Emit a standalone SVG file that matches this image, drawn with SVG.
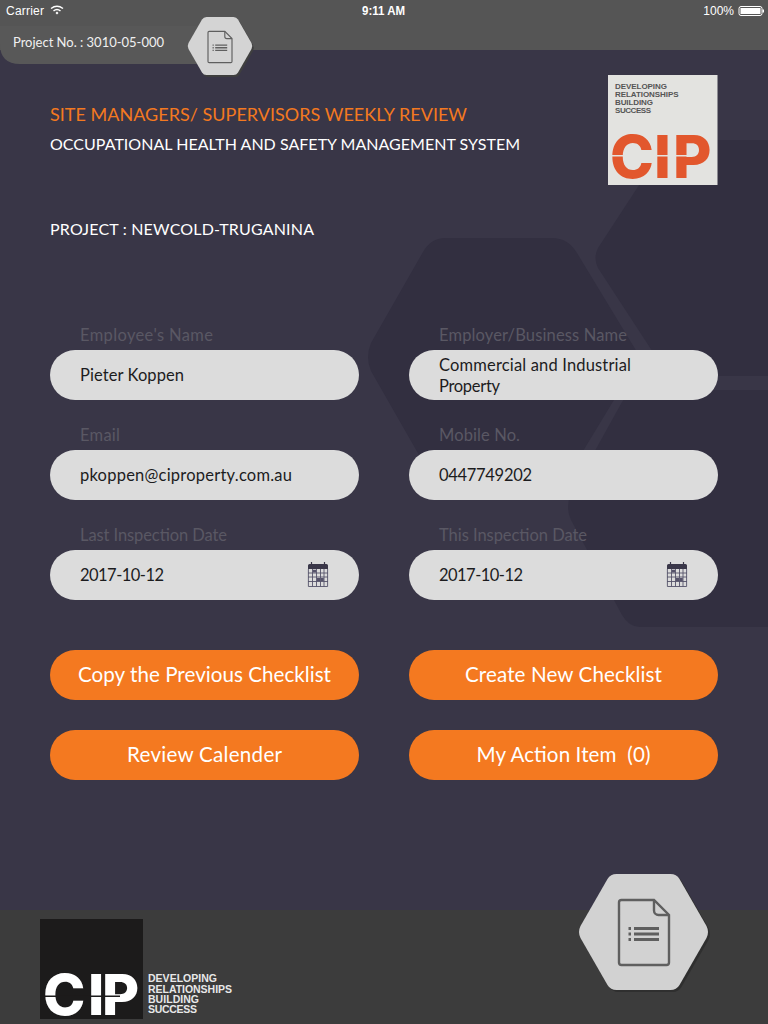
<svg xmlns="http://www.w3.org/2000/svg" width="768" height="1024" viewBox="0 0 768 1024">
<style>
text{font-family:"Lato","Open Sans","Liberation Sans",sans-serif}
.lbl{font-size:16.500px;fill:#5a5864}
.val{font-size:16.500px;fill:#1c1c1e}
.btn{font-size:20.600px;fill:#fff;text-anchor:middle}
.pill{fill:#dcdcdc}
.opill{fill:#f47920}
.bar{font-family:"Liberation Sans",sans-serif;font-size:12px;fill:#fff}
.tag{font-family:"Liberation Sans",sans-serif;font-weight:700;font-size:8px}
.cip{font-family:"Inter","Liberation Sans",sans-serif;font-weight:800;font-size:59px}
.bg{fill:#322f40}
</style>
<defs>
<g id="cal">
<rect x="0" y="3" width="20" height="22" fill="#dcdcdc"/>
<path d="M0 3.500a1.500 1.500 0 0 1 1.500-1.500H18.500a1.500 1.500 0 0 1 1.500 1.500V7H0Z" fill="#3a3749"/>
<path d="M3.500 0V3.500M16.500 0V3.500" stroke="#3a3749" stroke-width="1.200"/>
<path d="M0.400 7V24.500H19.600V7M0 11H20M0 15H20M0 19.500H20M4.500 7V24.500M8.500 7V24.500M12.500 7V24.500M16 7V24.500" fill="none" stroke="#55526a" stroke-width="0.900"/>
<path d="M5 7.800h3v2.600h-3ZM9 16h3v3h-3ZM12.800 16h3v3h-3Z" fill="#55526a"/>
</g>
<g id="doc" fill="none" stroke="#5f5f5f">
<path d="M-25 -30a2.500 2.500 0 0 1 2.500-2.500H10L25 -17.500V30a2.500 2.500 0 0 1-2.500 2.500H-22.500a2.500 2.500 0 0 1-2.500-2.500Z" stroke-width="2.400"/>
<path d="M10 -32.500V-22a4.500 4.500 0 0 0 4.500 4.500H25" stroke-width="2.400"/>
<path d="M-10 -4H15M-10 1.500H15M-10 7H15" stroke-width="2.800"/>
<path d="M-15.500 -4h2.500M-15.500 1.500h2.500M-15.500 7h2.500" stroke-width="2.800"/>
</g>
<path id="hex" d="M-27 -58H27Q33 -58 36 -53L63 -6Q66 0 63 6L36 53Q33 58 27 58H-27Q-33 58 -36 53L-63 6Q-66 0 -63 -6L-36 -53Q-33 -58 -27 -58Z"/>
</defs>

<rect width="768" height="1024" fill="#393647"/>
<path class="bg" d="M445 238H552Q568 238 577 253L640 357L577 461Q568 476 552 476H445Q431 476 423 462L371 371Q365 357 371 343L423 252Q431 238 445 238Z"/>
<path class="bg" d="M680 140H768V376H680Q668 376 660 363L598 268Q593 258 598 248L660 153Q668 140 680 140Z"/>
<path class="bg" d="M640 390H768V627H640Q629 627 622 615L571 520Q565 507 571 494L622 402Q629 390 640 390Z"/>

<g id="status-bar">
<rect width="768" height="50" fill="#555555"/>
<text class="bar" x="6" y="15" textLength="38">Carrier</text>
<path d="M51 8.500Q57 4 63 8.500M53.500 11Q57 8 60.500 11" fill="none" stroke="#fff" stroke-width="1.500"/>
<path d="M55.500 13L57 11.500L58.500 13L57 14.500Z" fill="#fff"/>
<text class="bar" x="362" y="15" font-weight="700" textLength="43" lengthAdjust="spacingAndGlyphs">9:11 AM</text>
<text class="bar" x="734" y="15" text-anchor="end">100%</text>
<rect x="739" y="6.500" width="23" height="9" rx="2" fill="none" stroke="#fff"/>
<rect x="740.500" y="8" width="20" height="6" fill="#fff"/>
<rect x="762.500" y="9.500" width="1.500" height="3" fill="#fff"/>
</g>

<g id="project-tab">
<path d="M0 26H215V64H20Q0 64 0 44Z" fill="#585858"/>
<text x="13" y="47" fill="#f0f0f0" style="font-size:13px" textLength="151">Project No. : 3010-05-000</text>
<g transform="translate(221.500 48) scale(0.5)"><use href="#hex" fill="#3f3f3f"/></g>
<g transform="translate(220 46) scale(0.5)"><use href="#hex" fill="#d4d4d4"/></g>
<g transform="translate(220 47) scale(0.48)"><use href="#doc"/></g>
</g>

<g id="title">
<text x="50" y="121" fill="#f47920" style="font-size:18px" textLength="417">SITE MANAGERS/ SUPERVISORS WEEKLY REVIEW</text>
<text x="50" y="150" fill="#fff" style="font-size:16px" textLength="470">OCCUPATIONAL HEALTH AND SAFETY MANAGEMENT SYSTEM</text>
<text x="50" y="235" fill="#fff" style="font-size:16px" textLength="264">PROJECT : NEWCOLD-TRUGANINA</text>
</g>

<g id="logo-top">
<rect x="608" y="75" width="109.500" height="110" fill="#e3e3e0"/>
<text class="tag" fill="#555" x="615" y="88.500" textLength="52">DEVELOPING</text>
<text class="tag" fill="#555" x="615" y="96.500" textLength="63.500">RELATIONSHIPS</text>
<text class="tag" fill="#555" x="615" y="104.500" textLength="38">BUILDING</text>
<text class="tag" fill="#555" x="615" y="112.500" textLength="36">SUCCESS</text>
<text class="cip" x="610 654 673" y="177.500" fill="#e2572d">CIP</text>
<rect x="612" y="155" width="78" height="1.500" fill="#e3e3e0"/>
</g>

<g id="field-employee"><text class="lbl" x="80" y="341" textLength="133">Employee's Name</text><rect class="pill" x="50" y="350" width="309" height="50" rx="25"/><text class="val" x="80" y="381" textLength="104">Pieter Koppen</text></g>
<g id="field-employer"><text class="lbl" x="439" y="341" textLength="188">Employer/Business Name</text><rect class="pill" x="409" y="350" width="309" height="50" rx="25"/><text class="val" x="439" y="371" textLength="192">Commercial and Industrial</text><text class="val" x="439" y="392" textLength="61">Property</text></g>
<g id="field-email"><text class="lbl" x="80" y="441" textLength="40">Email</text><rect class="pill" x="50" y="450" width="309" height="50" rx="25"/><text class="val" x="80" y="481" textLength="212">pkoppen@ciproperty.com.au</text></g>
<g id="field-mobile"><text class="lbl" x="439" y="441" textLength="81">Mobile No.</text><rect class="pill" x="409" y="450" width="309" height="50" rx="25"/><text class="val" x="439" y="481" textLength="93">0447749202</text></g>
<g id="field-last"><text class="lbl" x="80" y="541" textLength="147">Last Inspection Date</text><rect class="pill" x="50" y="550" width="309" height="50" rx="25"/><text class="val" x="80" y="581" textLength="84">2017-10-12</text><use href="#cal" x="308" y="562"/></g>
<g id="field-this"><text class="lbl" x="439" y="541" textLength="148">This Inspection Date</text><rect class="pill" x="409" y="550" width="309" height="50" rx="25"/><text class="val" x="439" y="581" textLength="84">2017-10-12</text><use href="#cal" x="667" y="562"/></g>

<g id="btn-copy"><rect class="opill" x="50" y="650" width="309" height="50" rx="25"/><text class="btn" x="204.500" y="682" textLength="253">Copy the Previous Checklist</text></g>
<g id="btn-create"><rect class="opill" x="409" y="650" width="309" height="50" rx="25"/><text class="btn" x="563.500" y="682" textLength="197">Create New Checklist</text></g>
<g id="btn-calendar"><rect class="opill" x="50" y="730" width="309" height="50" rx="25"/><text class="btn" x="204.500" y="762" textLength="155">Review Calender</text></g>
<g id="btn-action"><rect class="opill" x="409" y="730" width="309" height="50" rx="25"/><text class="btn" x="563.500" y="762" xml:space="preserve" textLength="174">My Action Item  (0)</text></g>

<g id="footer">
<rect y="910" width="768" height="114" fill="#3c3c3c"/>
<rect x="40" y="919" width="103" height="100" fill="#1c1b1b"/>
<text class="cip" x="43 88 102" y="1015" fill="#fff" style="font-size:57px">CIP</text>
<rect x="44" y="995.500" width="76" height="1.500" fill="#1c1b1b"/>
<text class="tag" fill="#e8e8e8" x="148" y="982" style="font-size:10.500px" textLength="69">DEVELOPING</text>
<text class="tag" fill="#e8e8e8" x="148" y="992.500" style="font-size:10.500px" textLength="84">RELATIONSHIPS</text>
<text class="tag" fill="#e8e8e8" x="148" y="1002.500" style="font-size:10.500px" textLength="51">BUILDING</text>
<text class="tag" fill="#e8e8e8" x="148" y="1013" style="font-size:10.500px" textLength="49">SUCCESS</text>
</g>

<g id="doc-button">
<use href="#hex" x="645.500" y="934" fill="#2f2f2f"/>
<use href="#hex" x="643.500" y="932" fill="#d2d2d2"/>
<use href="#doc" x="644" y="932.500"/>
</g>
</svg>
